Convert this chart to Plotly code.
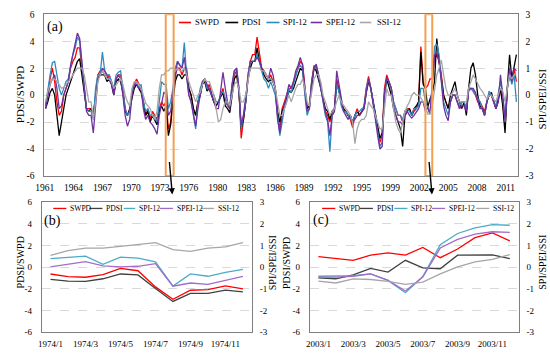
import plotly.graph_objects as go

# ---------------- Panel (a): quarterly readings 1961-2012 ----------------
YEARS = list(range(1961, 2013))
QUARTER_MONTH = [1, 4, 7, 10]  # month offset within year of each reading

SWPD_A = [
    -0.8, 0.3, 1.2, 2.0,   1.0, -0.5, -1.5, -1.2,   0.0, 0.5, 1.0, 2.0,   2.5, 2.8, 3.5, 3.5,
    2.0, 0.5, -1.0, -1.0,  -1.0, -1.5, 0.0, 1.5,    1.8, 1.8, 1.5, 1.2,   1.5, 1.0, 0.2, 1.2,
    1.5, 1.5, 0.5, -1.0,   -1.5, -1.2, 0.0, 0.8,    1.2, 0.8, 0.5, -0.5,  -1.5, -1.0, -1.8, -1.2,
    -1.5, -1.8, -1.0, -0.5, -0.8, -0.5, -2.5, -2.0, 0.0, 1.5, 2.0, 2.0,   1.5, 2.0, 2.0, 0.5,
    0.0, -1.0, -1.5, -0.5, 0.0, 1.0, 1.2, 0.5,      0.8, 0.2, -0.5, -0.8, -0.5, 0.0, 0.5, -0.5,
    -0.8, -1.0, 0.5, 1.5,  1.8, 0.5, -3.2, -2.0,    -0.5, 1.5, 2.5, 3.0,  3.0, 4.3, 3.0, 2.0,
    1.8, 1.5, 1.2, 1.5,    1.0, 0.5, -1.5, -2.5,    -1.0, -0.5, 0.0, 0.5, 0.5, 1.0, 1.5, 2.0,
    2.5, 2.3, 0.5, -1.0,   -0.8, 1.0, 2.2, 2.0,     1.5, 0.5, -0.5, -1.2, -1.5, -2.0, -1.2, -1.0,
    1.2, 0.5, -0.5, -1.0,  -1.2, -1.5, -1.8, -2.4,  -1.5, -1.0, -1.5, -1.2, -0.8, 0.5, 1.4, 0.5,
    -0.5, -1.5, -2.5, -3.5, -3.0, 0.5, 1.5, 1.0,    0.5, -0.5, -1.0, -1.5, -1.5, -2.0, -1.2, -1.0,
    -1.0, -1.5, -1.2, -1.0, -0.5, 3.6, 1.0, 0.5,    0.7, 1.2, 1.2, 2.7,   3.0, 2.5, 1.5, 0.0,
    -0.5, -1.0, -0.5, 0.0, 0.0, -0.5, -1.0, -0.5,   -0.5, -1.2, 0.5, 0.5, 0.3, 0.0, -0.5, -0.5,
    -0.8, -1.2, -0.5, 0.0, 0.0, -0.5, -1.0, -0.5,   0.5, -0.5, -2.5, 0.5, 1.5, 1.0, 2.0, 1.0,
]
PDSI_A = [
    -1.0, -0.5, 0.2, 0.5,  0.0, -1.5, -3.0, -2.0,   -1.0, 0.0, 0.5, 1.0,  1.5, 2.0, 2.5, 2.7,
    1.5, 0.0, -1.0, -1.2,  -1.0, -1.5, 0.0, 1.2,    1.5, 1.5, 1.5, 1.0,   1.2, 0.8, 0.0, 1.0,
    1.2, 1.0, 0.2, -1.2,   -1.5, -1.0, -0.2, 0.5,   0.8, 0.5, 0.2, -0.5,  -1.5, -1.2, -2.0, -1.5,
    -1.8, -2.2, -1.2, -0.8, -1.2, -0.8, -3.0, -2.2, -0.5, 1.0, 1.5, 1.5,  1.2, 1.5, 1.5, 0.5,
    0.0, -1.0, -1.5, -0.5, 0.0, 0.8, 1.0, 0.3,      0.5, 0.0, -0.5, -0.8, -0.5, -0.2, 0.2, -0.8,
    -1.0, -1.3, 0.2, 1.2,  1.5, 0.3, -2.5, -1.8,    -0.5, 1.2, 2.0, 2.5,  2.5, 3.5, 2.5, 2.0,
    1.5, 1.2, 1.0, 1.2,    1.0, 0.5, -1.2, -2.0,    -1.2, -0.8, -0.2, 0.3, 0.2, 0.5, 1.0, 1.5,
    2.0, 1.8, 0.5, -1.0,   -0.8, 0.8, 2.0, 1.8,     1.2, 0.5, -0.3, -1.0, -1.2, -1.8, -1.2, -1.0,
    0.8, 0.3, -0.5, -1.0,  -1.2, -1.5, -1.5, -2.0,  -1.5, -1.2, -1.5, -1.2, -1.0, 0.2, 1.0, 0.5,
    -0.5, -1.5, -2.5, -3.2, -2.8, 0.0, 1.2, 0.5,    0.0, -1.0, -1.5, -2.0, -2.5, -3.8, -1.5, -1.2,
    -1.0, -1.5, -1.0, -0.8, -0.5, 3.2, 0.8, 0.5,    -0.9, -0.3, 0.1, 1.0, 4.2, 2.5, 1.2, 0.0,
    -0.5, -1.0, 0.0, 0.5,  1.0, 0.0, -0.5, -1.0,    -0.5, -1.5, 0.5, 2.0, 2.4, 1.5, 0.0, -0.8,
    -1.0, -1.5, -0.5, 0.0, 0.2, -0.5, -1.0, -0.3,   0.5, -0.8, -2.8, 0.5, 3.0, 1.2, 2.0, 3.0,
]
SPI_A = [
    -0.4, 0.25, 0.75, 1.2,  1.25, 0.75, 0.25, 0.0,  0.25, 0.5, 0.6, 1.0,  1.5, 1.75, 2.15, 2.0,
    1.25, 0.25, -0.5, -0.6, -0.6, -0.9, 0.25, 0.75, 0.75, 1.6, 0.9, 0.75, 0.75, 0.5, 0.25, 0.75,
    0.85, 0.9, 0.25, -0.5,  -0.75, -0.6, 0.1, 0.4,  0.5, 0.25, 0.4, -0.25, -0.6, -0.5, -0.75, -0.75,
    -0.75, -1.0, -0.25, 0.5, 0.4, 0.4, -0.5, -0.25, 0.25, 1.0, 1.25, 1.1, 1.0, 1.95, 0.75, 0.0,
    -0.25, -0.75, -1.25, -0.25, 0.25, 0.5, 0.6, 0.25, 0.25, 0.0, 0.0, -0.25, -0.25, 0.0, 0.15, -0.1,
    -0.4, -0.4, 0.4, 0.9,   1.0, 0.25, -1.25, -0.75, -0.25, 0.75, 1.25, 1.25, 1.25, 1.5, 1.25, 0.9,
    0.6, 0.5, 0.25, 0.5,    0.25, 0.0, -0.75, -1.5, -1.0, -0.5, -0.25, 0.25, 0.1, 0.4, 0.75, 1.0,
    1.1, 1.0, 0.0, -0.75,   -0.5, 0.5, 1.0, 1.1,    0.75, 0.25, -0.25, -0.75, -1.0, -2.1, -0.75, -0.6,
    0.4, 0.15, -0.4, -0.6,  -0.6, -0.75, -0.9, -1.0, -0.75, -0.6, -0.6, -0.5, -0.5, 0.25, 0.6, 0.25,
    -0.25, -0.75, -1.25, -1.9, -1.75, 0.0, 0.6, 0.5, 0.25, -0.25, -0.5, -0.75, -0.75, -0.9, -0.6, -0.5,
    -0.6, -0.75, -0.5, -0.5, -0.4, 0.25, 0.25, -0.25, -0.45, -0.7, 0.35, 1.8, 1.9, 1.5, 0.6, -0.25,
    -0.5, -0.75, -0.25, 0.0, 0.0, -0.25, -0.4, -0.25, -0.25, -0.5, 0.25, 0.25, 0.15, 0.0, -0.15, -0.25,
    -0.5, -0.75, -0.25, 0.15, 0.0, -0.25, -0.4, 0.0, 0.5, 0.0, -1.0, 0.25, 0.75, 0.4, 0.75, -0.25,
]
SPEI_A = [
    -0.5, 0.0, 0.4, 0.6,    0.75, 0.25, -0.5, -0.4, 0.0, 0.25, 0.5, 1.1,  1.5, 1.9, 2.3, 2.1,
    1.25, 0.25, -0.6, -0.75, -0.75, -1.4, -0.25, 0.6, 0.75, 1.0, 0.9, 0.75, 0.6, 0.4, 0.0, 0.6,
    0.75, 0.6, 0.0, -0.75,  -1.15, -0.9, 0.0, 0.4,  0.4, 0.25, 0.25, -0.5, -0.9, -0.75, -1.0, -1.1,
    -1.25, -1.45, -0.75, -0.25, 0.1, 0.05, -0.75, -0.6, 0.0, 0.75, 1.25, 1.1, 1.0, 1.4, 0.75, 0.0,
    -0.25, -0.75, -1.15, -0.5, 0.0, 0.5, 0.6, 0.4,  0.25, 0.0, -0.25, -0.5, -0.5, 0.25, 0.85, 0.25,
    -0.25, -0.5, 0.4, 0.9,  1.0, 0.25, -1.1, -0.75, -0.1, 0.75, 1.25, 1.25, 1.25, 1.4, 1.25, 1.0,
    0.9, 0.75, 0.6, 1.0,    0.75, 0.25, -0.9, -1.4, -0.75, -0.4, 0.0, 0.4, 0.25, 0.5, 0.9, 1.1,
    1.4, 1.1, 0.25, -0.6,   -0.5, 0.5, 1.0, 1.15,   0.75, 0.25, -0.25, -0.65, -0.9, -1.5, -0.75, -0.6,
    0.9, 0.4, -0.25, -0.6,  -0.75, -0.9, -0.75, -1.0, -0.9, -0.75, -0.75, -0.6, -0.5, 0.1, 0.6, 0.25,
    -0.25, -0.9, -1.5, -2.0, -1.9, 0.1, 0.65, 0.5,  0.25, -0.4, -0.75, -1.0, -1.0, -1.1, -0.75, -0.6,
    -0.75, -0.85, -0.75, -0.6, -0.5, -0.25, -0.25, -0.6, -0.45, -0.7, 0.3, 1.5, 1.6, 1.25, 0.5, -0.4,
    -0.75, -0.95, -0.25, 0.0, 0.0, -0.25, -0.5, -0.4, -0.4, -0.6, 0.15, 0.25, 0.25, 0.1, -0.25, -0.5,
    -0.5, -0.75, -0.25, 0.0, 0.0, -0.25, -0.5, -0.25, 0.75, 0.0, -0.9, 0.25, 1.0, 0.5, 1.0, 0.9,
]
SSI_A = [
    -0.25, 0.15, 0.4, 0.6,  0.6, 0.5, 0.4, 0.25,    0.3, 0.4, 0.5, 0.6,   0.75, 0.9, 1.0, 1.0,
    1.0, 0.75, 0.25, -0.25, -0.25, -0.9, -0.25, 0.5, 0.75, 0.9, 0.75, 0.6, 0.6, 0.5, 0.25, 0.4,
    0.5, 0.6, 0.4, 0.0,     -0.25, -0.4, 0.25, 0.5, 0.5, 0.4, 0.25, 0.0,  -0.3, -0.4, -0.5, -0.75,
    -0.9, -0.6, 0.25, 0.75, 0.75, 0.9, 0.9, 1.0,    1.0, 0.9, 1.0, 0.9,   0.9, 1.0, 0.75, 0.5,
    0.25, 0.0, -0.25, 0.0,  0.1, 0.4, 0.6, 0.5,     0.5, 0.25, 0.0, -0.5, -1.0, -0.9, -0.5, -0.25,
    -0.25, -0.4, 0.0, 0.4,  0.5, 0.25, -0.25, -0.25, 0.0, 0.5, 1.0, 1.0,  1.0, 1.0, 1.0, 0.9,
    0.9, 0.75, 0.6, 0.6,    0.5, 0.25, -0.25, -0.75, -0.75, -0.5, -0.25, 0.0, -0.25, 0.0, 0.25, 0.4,
    0.4, 0.6, 0.25, -0.25,  -0.4, 0.1, 0.6, 0.75,   0.75, 0.5, 0.0, -0.25, -0.5, -0.75, -0.6, -0.5,
    -0.25, 0.0, -0.25, -0.4, -0.5, -0.6, -0.75, -1.0, -1.8, -1.25, -1.0, -0.9, -0.9, -0.75, -0.25, -0.4,
    -0.5, -0.75, -1.0, -1.25, -1.25, -0.5, 0.25, 0.0, 0.0, -0.5, -1.0, -1.25, -1.4, -1.0, -0.6, -0.4,
    -0.25, 0.0, 0.1, 0.0,   0.0, -0.1, -0.25, -0.4, -0.7, -0.7, -0.4, 0.2, 0.75, 1.0, 1.3, 0.75,
    0.25, 0.0, 0.0, 0.1,    0.25, 0.0, -0.25, -0.25, -0.25, -0.25, 0.25, 0.5, 0.75, 0.6, 0.4, 0.25,
    0.15, 0.0, -0.15, 0.0,  0.0, -0.15, -0.25, 0.0, 0.25, 0.15, -0.25, 0.25, 0.75, 0.6, 0.75, 0.75,
]
A_TICK_MONTHS = [0, 38, 76, 114, 152, 190, 228, 266, 304, 342, 380, 418, 456, 494, 532, 570, 608]
A_TICK_LABELS = ["1961", "1964", "1967", "1970", "1973", "1976", "1980", "1983", "1986",
                 "1989", "1992", "1995", "1999", "2002", "2005", "2008", "2011"]

# ---------------- Panel (b): 1974 monthly ----------------
B_MONTHS = ["1974/%d" % m for m in range(1, 13)]
SWPD_B = [-0.63, -0.87, -0.93, -0.69, -0.12, -0.33, -1.82, -2.96, -2.13, -2.07, -1.73, -2.0]
PDSI_B = [-1.13, -1.28, -1.31, -1.07, -0.63, -0.72, -1.97, -3.16, -2.42, -2.42, -2.12, -2.27]
SPI_B = [0.39, 0.46, 0.51, 0.13, 0.46, 0.42, 0.24, -0.87, -0.31, -0.42, -0.24, -0.10]
SPEI_B = [0.01, 0.13, 0.25, 0.06, 0.01, 0.04, 0.16, -0.88, -0.73, -0.79, -0.61, -0.42]
SSI_B = [0.54, 0.76, 0.88, 0.88, 0.96, 1.03, 1.13, 0.81, 0.73, 0.88, 0.93, 1.13]

# ---------------- Panel (c): 2003 monthly ----------------
C_MONTHS = ["2003/%d" % m for m in range(1, 13)]
SWPD_C = [0.96, 0.81, 0.63, 1.10, 1.31, 1.10, 1.82, 0.87, 1.67, 2.72, 3.16, 2.42]
PDSI_C = [-0.99, -1.07, -0.72, -0.12, -0.45, 0.63, -0.06, -0.15, 1.10, 1.10, 1.13, 0.78]
SPI_C = [-0.42, -0.42, -0.39, -0.31, -0.61, -1.18, -0.43, 1.03, 1.55, 1.81, 1.96, 1.93]
SPEI_C = [-0.46, -0.46, -0.42, -0.31, -0.61, -1.10, -0.46, 0.88, 1.28, 1.52, 1.63, 1.60]
SSI_C = [-0.64, -0.73, -0.54, -0.57, -0.66, -0.79, -0.69, -0.31, 0.01, 0.24, 0.36, 0.58]

LEFT_TICKS = [-6, -4, -2, 0, 2, 4, 6]
LEFT_LABELS = ["-6", "-4", "-2", "0", "2", "4", "6"]
RIGHT_TICKS = [-3, -2, -1, 0, 1, 2, 3]
RIGHT_LABELS = ["-3", "-2", "-1", "0", "1", "2", "3"]
SERIES_NAMES = ["SWPD", "PDSI", "SPI-12", "SPEI-12", "SSI-12"]

# ---------------- styling ----------------
W, H = 550, 357
FONT = "Liberation Serif"
FRAME = "#7f7f7f"
GRID = "#d9d9d9"
COLORS_A = ["#ff0000", "#000000", "#2e8bc0", "#7030a0", "#a6a6a6"]
COLORS_BC = ["#ff0000", "#404040", "#4bacc6", "#a46cc8", "#a6a6a6"]


def px(x):
    return x / W


def py(y):
    return 1 - y / H


x_a = [12 * (y - 1961) + m for y in YEARS for m in QUARTER_MONTH]

fig = go.Figure()

# panel (a)
for name, vals, col, ax_y in zip(SERIES_NAMES, [SWPD_A, PDSI_A, SPI_A, SPEI_A, SSI_A], COLORS_A,
                                  ["y", "y", "y2", "y2", "y2"]):
    fig.add_trace(go.Scatter(x=x_a, y=vals, mode="lines", name=name, xaxis="x", yaxis=ax_y,
                             line=dict(color=col, width=1.3), showlegend=False))
# panel (b)
for name, vals, col, ax_y in zip(SERIES_NAMES, [SWPD_B, PDSI_B, SPI_B, SPEI_B, SSI_B], COLORS_BC,
                                  ["y3", "y3", "y4", "y4", "y4"]):
    fig.add_trace(go.Scatter(x=B_MONTHS, y=vals, mode="lines", name=name, xaxis="x2", yaxis=ax_y,
                             line=dict(color=col, width=1.3), showlegend=False))
# panel (c)
for name, vals, col, ax_y in zip(SERIES_NAMES, [SWPD_C, PDSI_C, SPI_C, SPEI_C, SSI_C], COLORS_BC,
                                  ["y5", "y5", "y6", "y6", "y6"]):
    fig.add_trace(go.Scatter(x=C_MONTHS, y=vals, mode="lines", name=name, xaxis="x3", yaxis=ax_y,
                             line=dict(color=col, width=1.3), showlegend=False))


def xax(domain, anchor, size, **kw):
    d = dict(domain=domain, anchor=anchor, showline=True, linecolor=FRAME, linewidth=1, mirror=True,
             ticks="", showgrid=False, zeroline=False, tickfont=dict(family=FONT, size=size, color="#000"),
             ticklabelstandoff=3)
    d.update(kw)
    return d


def yleft(domain, anchor, size):
    return dict(domain=domain, anchor=anchor, range=[-6, 6], tickvals=LEFT_TICKS, ticktext=LEFT_LABELS,
                showline=True, linecolor=FRAME, linewidth=1, mirror=True, ticks="",
                showgrid=True, gridcolor=GRID, griddash="dash", gridwidth=1, zeroline=False,
                tickfont=dict(family=FONT, size=size, color="#000"), ticklabelstandoff=7)


def yright(overlay, anchor, size):
    return dict(overlaying=overlay, anchor=anchor, side="right", range=[-3, 3], tickvals=RIGHT_TICKS,
                ticktext=RIGHT_LABELS, showgrid=False, zeroline=False, showline=False, ticks="",
                tickfont=dict(family=FONT, size=size, color="#000"), ticklabelstandoff=7)


dom_a_x = [px(36), px(517)]
dom_a_y = [py(176), py(9.5)]
dom_b_x = [px(33.3), px(246.7)]
dom_c_x = [px(305.7), px(518)]
dom_bc_y = [py(336.7), py(202.7)]

fig.update_layout(
    width=W, height=H, margin=dict(l=0, r=0, t=0, b=0),
    paper_bgcolor="white", plot_bgcolor="white", showlegend=False,
    font=dict(family=FONT, color="#000"),
    xaxis=xax(dom_a_x, "y", 9.5, range=[-0.5, 623.5], tickvals=A_TICK_MONTHS, ticktext=A_TICK_LABELS),
    yaxis=yleft(dom_a_y, "x", 9.5),
    yaxis2=yright("y", "x", 9.5),
    xaxis2=xax(dom_b_x, "y3", 9, type="category", range=[-0.5, 11.5], tickvals=B_MONTHS[::2],
               ticktext=B_MONTHS[::2]),
    yaxis3=yleft(dom_bc_y, "x2", 9),
    yaxis4=yright("y3", "x2", 9),
    xaxis3=xax(dom_c_x, "y5", 9, type="category", range=[-0.5, 11.5], tickvals=C_MONTHS[::2],
               ticktext=C_MONTHS[::2]),
    yaxis5=yleft(dom_bc_y, "x3", 9),
    yaxis6=yright("y5", "x3", 9),
)

shapes = []
annotations = []

# orange highlight boxes in panel (a)
for x0, x1 in [(159.5, 169.9), (502.0, 511.0)]:
    shapes.append(dict(type="rect", xref="x", yref="y", x0=x0, x1=x1, y0=-6, y1=6,
                       line=dict(color="#f4a053", width=2), fillcolor="rgba(0,0,0,0)"))

# arrows from boxes to the zoom panels
for (hx, hy, tx, ty) in [(166, 195, 163, 161), (430, 195, 427, 161)]:
    annotations.append(dict(x=px(hx), y=py(hy), xref="paper", yref="paper", text="", showarrow=True,
                            ax=tx - hx, ay=ty - hy, arrowhead=2, arrowsize=0.9, arrowwidth=1.4,
                            arrowcolor="#000"))

# manual legends
legend_a = [(172.7, 185, 187), (220, 233, 235), (261.7, 275, 277), (306.7, 318.3, 320.7), (356.7, 368.3, 371.7)]
legend_b = [(45, 58.3, 60), (81.7, 95, 96.7), (116.7, 128.3, 130), (153.3, 166.7, 168.3), (195, 208.3, 210)]
legend_c = [(318.3, 331.7, 333.3), (356.7, 370, 371.7), (391.7, 405, 406.7), (430, 443.3, 445), (475, 488.3, 490)]
for entries, ly, cols, fsz, lw in [(legend_a, 18, COLORS_A, 8.6, 1.6), (legend_b, 209.3, COLORS_BC, 7.6, 1.3),
                                   (legend_c, 209.3, COLORS_BC, 7.6, 1.3)]:
    for (l0, l1, tx), name, col in zip(entries, SERIES_NAMES, cols):
        shapes.append(dict(type="line", xref="paper", yref="paper", x0=px(l0), x1=px(l1), y0=py(ly), y1=py(ly),
                           line=dict(color=col, width=lw)))
        annotations.append(dict(x=px(tx), y=py(ly), xref="paper", yref="paper", text=name, showarrow=False,
                                xanchor="left", yanchor="middle", font=dict(family=FONT, size=fsz, color="#000")))

# panel labels
for text, cx, cy in [("(a)", 47.2, 22.7), ("(b)", 43.8, 222.5), ("(c)", 317.5, 221)]:
    annotations.append(dict(x=px(cx), y=py(cy), xref="paper", yref="paper", text=text, showarrow=False,
                            xanchor="center", yanchor="middle", font=dict(family=FONT, size=14, color="#000")))

# axis titles
for text, cx, cy, fsz in [("PDSI/SWPD", 12, 92, 11), ("SPI/SPEI/SSI", 542, 97, 11),
                          ("PDSI/SWPD", 12, 265, 10), ("SPI/SPEI/SSI", 268, 265, 10),
                          ("PDSI/SWPD", 282, 265, 10), ("SPI/SPEI/SSI", 542, 265, 10)]:
    annotations.append(dict(x=px(cx), y=py(cy), xref="paper", yref="paper", text=text, showarrow=False,
                            textangle=-90, xanchor="center", yanchor="middle",
                            font=dict(family=FONT, size=fsz, color="#000")))

fig.update_layout(shapes=shapes, annotations=annotations)

fig.write_html("out.html", include_plotlyjs=True, full_html=True,
               config={"displayModeBar": False},
               post_script="document.body.style.margin='0';document.body.style.overflow='hidden';")
